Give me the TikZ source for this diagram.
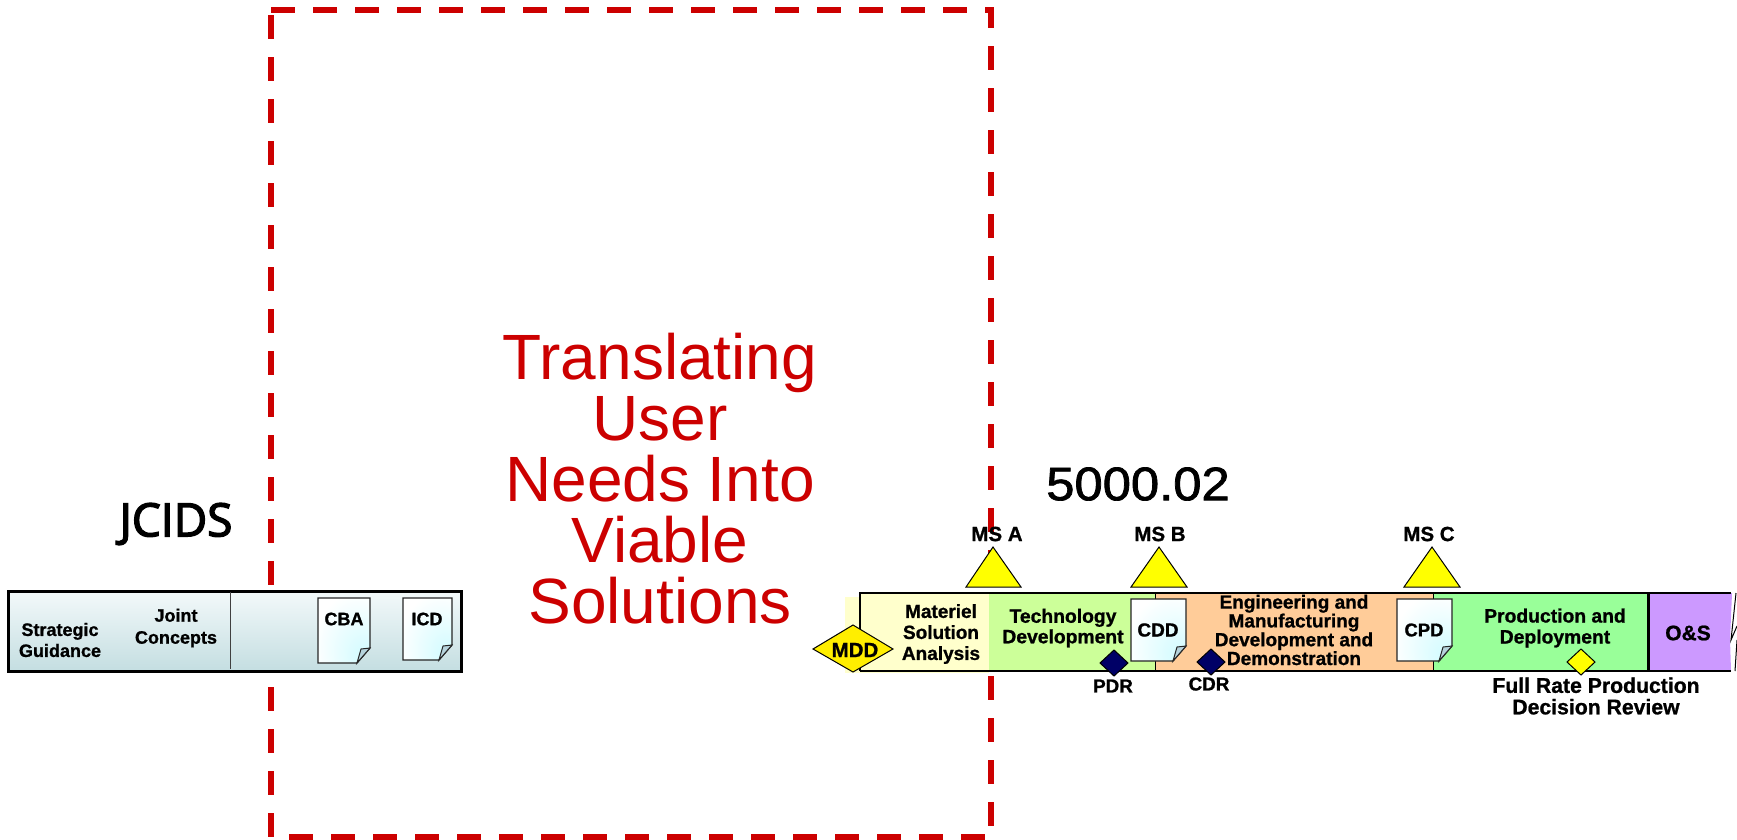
\documentclass[tikz,border=0pt]{standalone}
\usepackage{fontspec}
\setmainfont{Liberation Sans}[BoldFeatures={FakeBold=1}]
\newfontfamily\headfont{Open Sans}[FakeBold=3]
\newfontfamily\numfont{Liberation Sans}[FakeBold=1.5]
\usetikzlibrary{shapes.geometric}
\definecolor{dashred}{HTML}{CC0000}
\definecolor{paley}{HTML}{FFFFCC}
\definecolor{techg}{HTML}{CCFF99}
\definecolor{emdo}{HTML}{FFCC99}
\definecolor{prodg}{HTML}{99FF99}
\definecolor{ospur}{HTML}{CC99FF}
\definecolor{navyd}{HTML}{000066}
\definecolor{foldblue}{HTML}{B5D3DC}
\definecolor{mddy}{HTML}{FFEE00}
\definecolor{msy}{HTML}{FFFF00}
\definecolor{jtop}{HTML}{F3F9FA}
\definecolor{jbot}{HTML}{C4DEE1}
\definecolor{docc}{HTML}{CFFBFF}
\pgfdeclareradialshading{docglow}{\pgfpoint{22bp}{-22bp}}{color(0bp)=(docc); color(42bp)=(white); color(100bp)=(white)}
\tikzset{
  x=1pt,y=-1pt,
  redline/.style={draw=dashred,line width=6pt,dash pattern=on 24pt off 18pt},
  lab/.style={inner sep=0pt,align=center,font=\bfseries\fontsize{#1}{#1}\selectfont},
  lab/.default=19,
  bartext/.style n args={2}{inner sep=0pt,align=center,font=\bfseries\fontsize{#1}{#2}\selectfont},
  redtext/.style={inner sep=0pt,text=dashred,font=\fontsize{64}{61}\selectfont},
  msmark/.style={draw=black,line width=1pt,fill=msy,line join=miter},
  review/.style={draw=black,line width=1pt,fill=#1},
  docpage/.style={draw=black!85,line width=1.3pt},
  docfold/.style={draw=black!85,line width=1pt,fill=foldblue},
  barline/.style={draw=black,line width=#1},
}
% #1 left, #2 top, #3 right, #4 bottom
\newcommand{\docsheet}[4]{%
  \path[shading=docglow]
    (#1,#2) -- (#3,#2) -- (#3,#4-15) -- (#3-15,#4) -- (#1,#4) -- cycle;
  \draw[docpage] (#1,#2) -- (#3,#2) -- (#3,#4-15) -- (#3-13,#4) -- (#1,#4) -- cycle;
  \draw[docfold] (#3,#4-15) -- (#3-9,#4-14) -- (#3-13,#4) -- cycle;
}
\begin{document}
\begin{tikzpicture}
\useasboundingbox (0,0) rectangle (1737,839);
\fill[white] (0,0) rectangle (1737,839);

% red dashed frame
\draw[redline] (271,10) -- (994,10);
\draw[redline] (271,15) -- (271,837);
\draw[redline] (289,837) -- (985,837);
\draw[redline,dash phase=3pt] (991,7) -- (991,826);

% red text
\node[redtext,align=center,anchor=north] (needs) at (660,333)
  {Translating\\User\\Needs Into\\Viable\\Solutions};

% headings
\node[inner sep=0pt,font=\headfont\fontsize{46}{46}\selectfont] (jcids) at (176,524) {JCIDS};
\node[inner sep=0pt,xscale=1.08,font=\numfont\fontsize{47}{47}\selectfont] (dodi) at (1138,484) {5000.02};

% JCIDS bar
\path[shade,top color=jtop,bottom color=jbot] (8,591) rectangle (461,671);
\draw[barline=3pt] (8,591) rectangle (461,671);
\draw[barline=1pt,draw=black!75] (230,592) -- (230,669);
\node[bartext={18}{21}] (strat) at (60,640) {Strategic\\Guidance};
\node[bartext={18}{22}] (joint) at (176,628) {Joint\\Concepts};
\docsheet{318}{598}{370}{663}
\node[lab=18] (cba) at (344,619) {CBA};
\docsheet{403}{598}{452}{660}
\node[lab=18] (icd) at (427,619) {ICD};

% acquisition bar
\fill[paley] (845,597) rectangle (989,673);
\fill[paley] (860,593) rectangle (989,673);
\fill[techg] (989,593) rectangle (1155,671);
\fill[emdo] (1155,593) rectangle (1433,671);
\fill[prodg] (1433,593) rectangle (1648,671);
\fill[ospur] (1648,593) -- (1732,593) -- (1730,640) -- (1731,671) -- (1648,671) -- cycle;
\draw[barline=1.5pt] (860,671) -- (860,593) -- (1731,593);
\draw[barline=1.5pt] (860,671) -- (1731,671);
\draw[barline=1pt] (1155,593) -- (1155,671);
\draw[barline=1pt] (1433,593) -- (1433,671);
\draw[barline=3pt] (1648,593) -- (1648,671);
\draw[barline=1pt] (1736,593) -- (1731,640) -- (1737,626);
\draw[barline=1pt] (1737,640) -- (1735,671);

% milestones
\draw[msmark] (993,547) -- (1021,587) -- (966,587) -- cycle;
\draw[msmark] (1159,547) -- (1187,587) -- (1131,587) -- cycle;
\draw[msmark] (1432,547) -- (1460,587) -- (1404,587) -- cycle;
\node[lab=20.5] (msa) at (997,534) {MS A};
\node[lab=20.5] (msb) at (1160,534) {MS B};
\node[lab=20.5] (msc) at (1429,534) {MS C};

% phase text
\node[bartext={19}{21}] (msana) at (941,634) {Materiel\\Solution\\Analysis};
\node[bartext={19.3}{20.5}] (tech) at (1063,628) {Technology\\Development};
\node[bartext={19}{18.8}] (emd) at (1294,630) {Engineering and\\Manufacturing\\Development and\\Demonstration};
\node[bartext={19.3}{21}] (prod) at (1555,628) {Production and\\Deployment};
\node[lab=21] (os) at (1688,633) {O\&S};

% documents
\docsheet{1131}{599}{1186}{661}
\node[lab=19] (cdd) at (1158,630) {CDD};
\docsheet{1397}{599}{1452}{661}
\node[lab=18.5] (cpd) at (1424,630) {CPD};

% reviews
\draw[review=mddy] (813,649) -- (853,625) -- (893,649) -- (853,672) -- cycle;
\node[lab=20.5] (mdd) at (855,650) {MDD};
\draw[review=navyd] (1100,663) -- (1114,650) -- (1128,663) -- (1114,676) -- cycle;
\node[lab=18.8] (pdr) at (1113,686) {PDR};
\draw[review=navyd] (1197,662) -- (1211,649) -- (1225,662) -- (1211,675) -- cycle;
\node[lab=18.8] (cdr) at (1209,684) {CDR};
\draw[review=msy] (1567,662) -- (1581,649) -- (1595,662) -- (1581,675) -- cycle;
\node[bartext={21.2}{21.5}] (frp) at (1596,696) {Full Rate Production\\Decision Review};
\end{tikzpicture}
\end{document}
